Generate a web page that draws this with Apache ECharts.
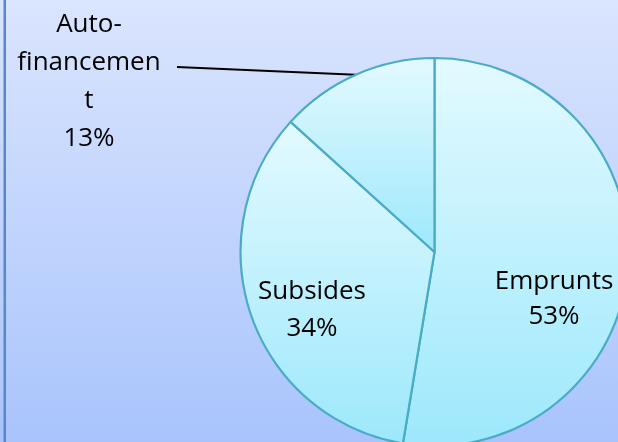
<!DOCTYPE html>
<html>
<head>
<meta charset="utf-8">
<script src="https://cdn.jsdelivr.net/npm/echarts@6/dist/echarts.min.js"></script>
<style>
html,body{margin:0;padding:0;width:618px;height:442px;overflow:hidden;}
#c{width:618px;height:442px;}
</style>
</head>
<body>
<div id="c"></div>
<script>
var categories = ['Emprunts', 'Subsides', 'Auto-financement'];
var values = [52.6, 34.1, 13.3];
var labelTexts = ['Emprunts', 'Subsides', 'Auto-\nfinancemen\nt'];

var chart = echarts.init(document.getElementById('c'), null, {renderer: 'canvas'});

function sliceFill() {
  return new echarts.graphic.LinearGradient(0, 0, 0, 1, [
    {offset: 0, color: '#e3faff'},
    {offset: 1, color: '#9de8fc'}
  ]);
}

var labelPos = [
  {x: 554, y: 299, lh: 35},
  {x: 312, y: 310, lh: 37},
  {x: 89, y: 82, lh: 38}
];

var data = categories.map(function (name, i) {
  var item = {name: name, value: values[i], itemStyle: {color: sliceFill()}};
  if (i === 2) {
    item.label = {position: 'outside', lineHeight: labelPos[i].lh};
    item.labelLine = {show: true, length: 10, length2: 10, lineStyle: {color: '#000', width: 2}};
  } else {
    item.label = {position: 'inside', lineHeight: labelPos[i].lh};
    item.labelLine = {show: false};
  }
  return item;
});

chart.setOption({
  animation: false,
  graphic: [
    {
      type: 'rect', z: -10, silent: true,
      shape: {x: 0, y: 0, width: 618, height: 442},
      style: {
        fill: new echarts.graphic.LinearGradient(0, 0, 0, 1, [
          {offset: 0, color: '#dae5fe'},
          {offset: 1, color: '#a9c4fc'}
        ])
      }
    },
    {
      type: 'rect', z: -9, silent: true,
      shape: {x: 3.5, y: 0, width: 2.5, height: 442},
      style: {fill: '#5a86cd'}
    }
  ],
  series: [{
    type: 'pie',
    center: [434.5, 252],
    radius: 194,
    startAngle: 90,
    clockwise: true,
    silent: true,
    emphasis: {disabled: true},
    itemStyle: {borderColor: '#4aabc5', borderWidth: 2.2},
    label: {
      show: true,
      color: '#000',
      fontFamily: 'Open Sans',
      fontSize: 26,
      lineHeight: 37,
      align: 'center',
      formatter: function (p) {
        return labelTexts[p.dataIndex] + '\n' + Math.round(p.percent) + '%';
      }
    },
    labelLayout: function (p) {
      var pos = labelPos[p.dataIndex];
      var res = {x: pos.x, y: pos.y, align: 'center', verticalAlign: 'middle'};
      if (p.dataIndex === 2 && p.labelLinePoints) {
        var edge = p.labelLinePoints[0];
        res.labelLinePoints = [[edge[0], edge[1]], [177, 67], [177, 67]];
      }
      return res;
    },
    data: data
  }]
});
</script>
</body>
</html>
